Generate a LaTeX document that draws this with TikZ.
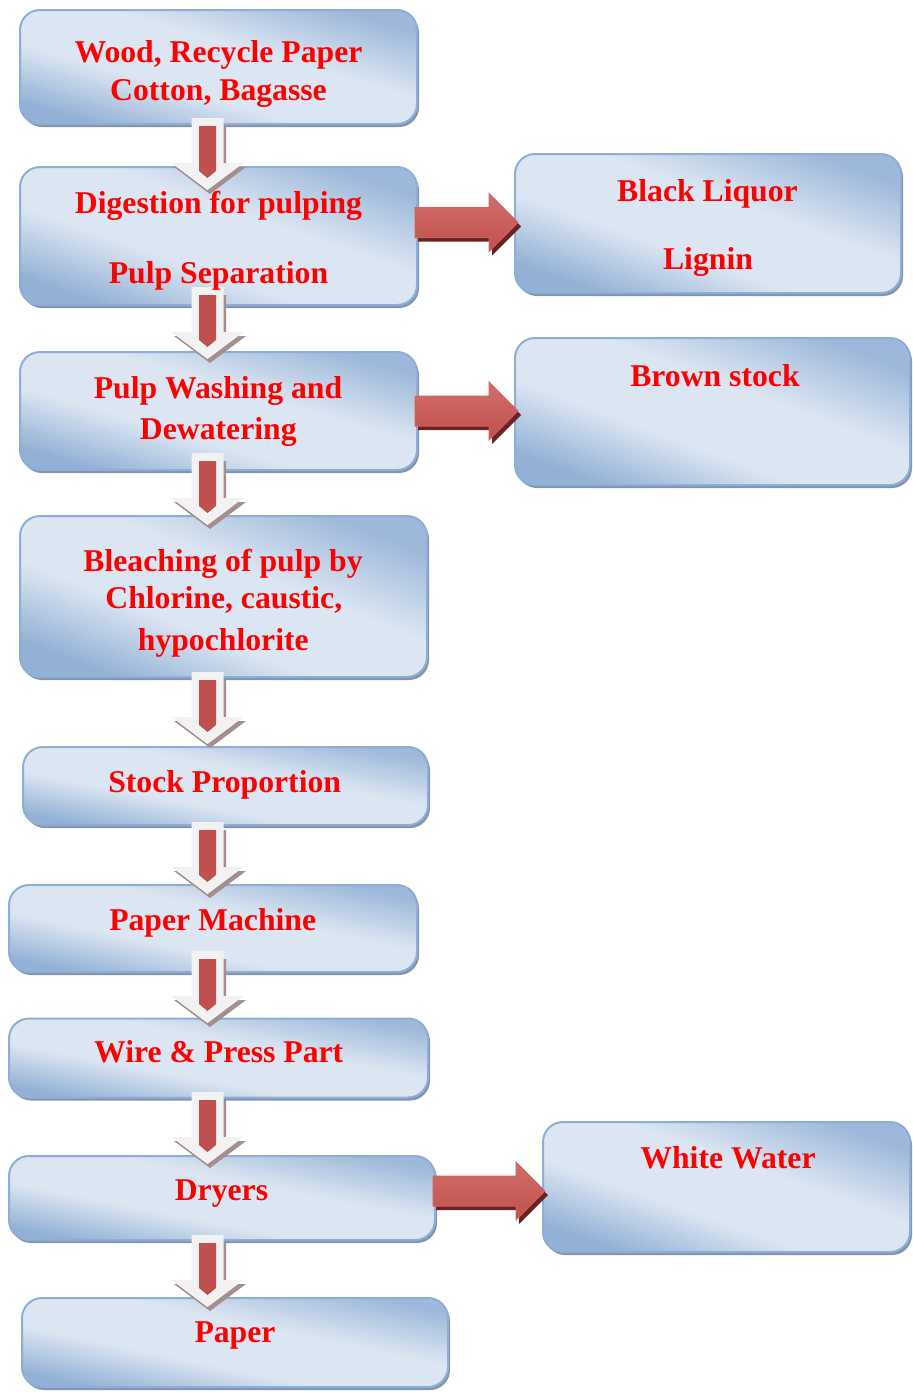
\documentclass[tikz,border=0pt]{standalone}
\usepackage{fontspec}
\setmainfont{Liberation Serif}
\usetikzlibrary{shadows,calc}
\definecolor{boxlight}{HTML}{DCE6F2}
\definecolor{boxdark}{HTML}{93B1D6}
\definecolor{boxdarktwo}{HTML}{9DB8DA}
\definecolor{boxborder}{HTML}{8FAED6}
\definecolor{boxshadow}{HTML}{8394AB}
\definecolor{arrred}{HTML}{C0504D}
\definecolor{arrredlight}{HTML}{D26E6A}
\definecolor{arrredline}{HTML}{CD625E}
\definecolor{arrshadow}{HTML}{6A2321}
\definecolor{dshaft}{HTML}{F2F2F2}
\definecolor{dshadow}{HTML}{A48E8E}
\definecolor{txtred}{HTML}{FF0000}

\pgfdeclareverticalshading{boxshade}{100bp}{color(0bp)=(boxdark); color(25bp)=(boxdark);
  color(41bp)=(boxlight); color(57bp)=(boxlight); color(75bp)=(boxdarktwo); color(100bp)=(boxdarktwo)}

\newcommand\downblock[1]{%
  \begin{scope}[shift={(#1)}]
    \fill[dshadow] (-13.5,8) -- (18.5,8) -- (18.5,49) -- (38.5,49) -- (2.5,76) -- (-33.5,49) -- (-13.5,49) -- cycle;
    \fill[dshaft] (-16,0) -- (16,0) -- (16,45) -- (36,45) -- (0,72) -- (-36,45) -- (-16,45) -- cycle;
    \fill[arrred] (-8.5,8) -- (8.5,8) -- (8.5,53) -- (0,60) -- (-8.5,53) -- cycle;
  \end{scope}}

\newcommand\rightblock[2]{%
  \fill[arrshadow] ($(#1)+(3,-11)$) -- ($(#2)+(-26,-11)$) -- ($(#2)+(-26,-25)$) -- ($(#2)+(3,4)$)
     -- ($(#2)+(-26,33)$) -- ($(#2)+(-26,19)$) -- ($(#1)+(3,19)$) -- cycle;
  \shade[top color=arrredlight, bottom color=arrred, draw=arrredline, line width=0.5pt]
     ($(#1)+(0,-15)$) -- ($(#2)+(-29,-15)$) -- ($(#2)+(-29,-29)$) -- (#2)
     -- ($(#2)+(-29,29)$) -- ($(#2)+(-29,15)$) -- ($(#1)+(0,15)$) -- cycle;}

\begin{document}
\begin{tikzpicture}[x=0.5pt,y=-0.5pt,
  box/.style={rectangle, rounded corners=10pt, draw=boxborder, line width=1pt,
    shading=boxshade, shading angle=-#1,
    drop shadow={shadow xshift=1pt, shadow yshift=-1.5pt, fill=boxshadow, opacity=1},
    inner sep=0pt, outer sep=0pt},
  lbl/.style={anchor=base, text=txtred, font=\fontsize{15.85pt}{19pt}\selectfont\bfseries, inner sep=0pt},
]
\useasboundingbox (0,0) rectangle (912,1392);

% boxes
\node[box=16.0, minimum width=198.5pt, minimum height=57pt]   (b1) at (218.5,67) {};
\node[box=19.2, minimum width=198.5pt, minimum height=69pt]   (b2) at (218.5,236) {};
\node[box=19.8, minimum width=193pt,   minimum height=69.5pt] (bl) at (708,223.5) {};
\node[box=16.6, minimum width=198.5pt, minimum height=59pt]   (b3) at (218.5,411) {};
\node[box=20.4, minimum width=197.5pt, minimum height=73.5pt] (bs) at (712.5,411.5) {};
\node[box=21.6, minimum width=203.5pt, minimum height=80.5pt] (b4) at (223.5,596.5) {};
\node[box=10.9, minimum width=202.5pt, minimum height=39pt]   (b5) at (225.5,786) {};
\node[box=12.0, minimum width=204pt,   minimum height=43.5pt] (b6) at (213,928.5) {};
\node[box=10.7, minimum width=209.5pt, minimum height=39.5pt] (b7) at (218.5,1058) {};
\node[box=11.2, minimum width=213pt,   minimum height=42pt]   (b8) at (222,1198) {};
\node[box=19.5, minimum width=183.5pt, minimum height=65pt]   (ww) at (726.5,1187) {};
\node[box=11.8, minimum width=213pt,   minimum height=44.5pt] (b9) at (235,1342.5) {};

% arrow anchors
\coordinate (d1) at (207.5,118);
\coordinate (d2) at (207.5,287);
\coordinate (d3) at (207.5,453);
\coordinate (d4) at (207.5,672);
\coordinate (d5) at (207.5,822);
\coordinate (d6) at (207.5,951);
\coordinate (d7) at (207.5,1092);
\coordinate (d8) at (207.5,1235);
\coordinate (r1s) at (415,222.5);
\coordinate (r1e) at (518,222.5);
\coordinate (r2s) at (415,411);
\coordinate (r2e) at (518,411);
\coordinate (r3s) at (433,1191);
\coordinate (r3e) at (545,1191);

\downblock{d1}
\downblock{d2}
\downblock{d3}
\downblock{d4}
\downblock{d5}
\downblock{d6}
\downblock{d7}
\downblock{d8}
\rightblock{r1s}{r1e}
\rightblock{r2s}{r2e}
\rightblock{r3s}{r3e}

% labels
\node[lbl] (t1a) at (218.5,62.7) {Wood, Recycle Paper};
\node[lbl] (t1b) at (218.5,100) {Cotton, Bagasse};
\node[lbl] (t2a) at (218.5,213.3) {Digestion for pulping};
\node[lbl] (t2b) at (218.5,283) {Pulp Separation};
\node[lbl] (tla) at (707.5,201) {Black Liquor};
\node[lbl] (tlb) at (708,269) {Lignin};
\node[lbl] (t3a) at (218,398) {Pulp Washing and};
\node[lbl] (t3b) at (218.3,439) {Dewatering};
\node[lbl] (tsa) at (715,386) {Brown stock};
\node[lbl] (t4a) at (223,571) {Bleaching of pulp by};
\node[lbl] (t4b) at (223.8,608) {Chlorine, caustic,};
\node[lbl] (t4c) at (223.3,650) {hypochlorite};
\node[lbl] (t5) at (224.7,792) {Stock Proportion};
\node[lbl] (t6) at (212.7,930) {Paper Machine};
\node[lbl] (t7) at (218.7,1062) {Wire \& Press Part};
\node[lbl] (t8) at (221.5,1200) {Dryers};
\node[lbl] (tw) at (728,1168) {White Water};
\node[lbl] (t9) at (235,1342) {Paper};
\end{tikzpicture}
\end{document}
